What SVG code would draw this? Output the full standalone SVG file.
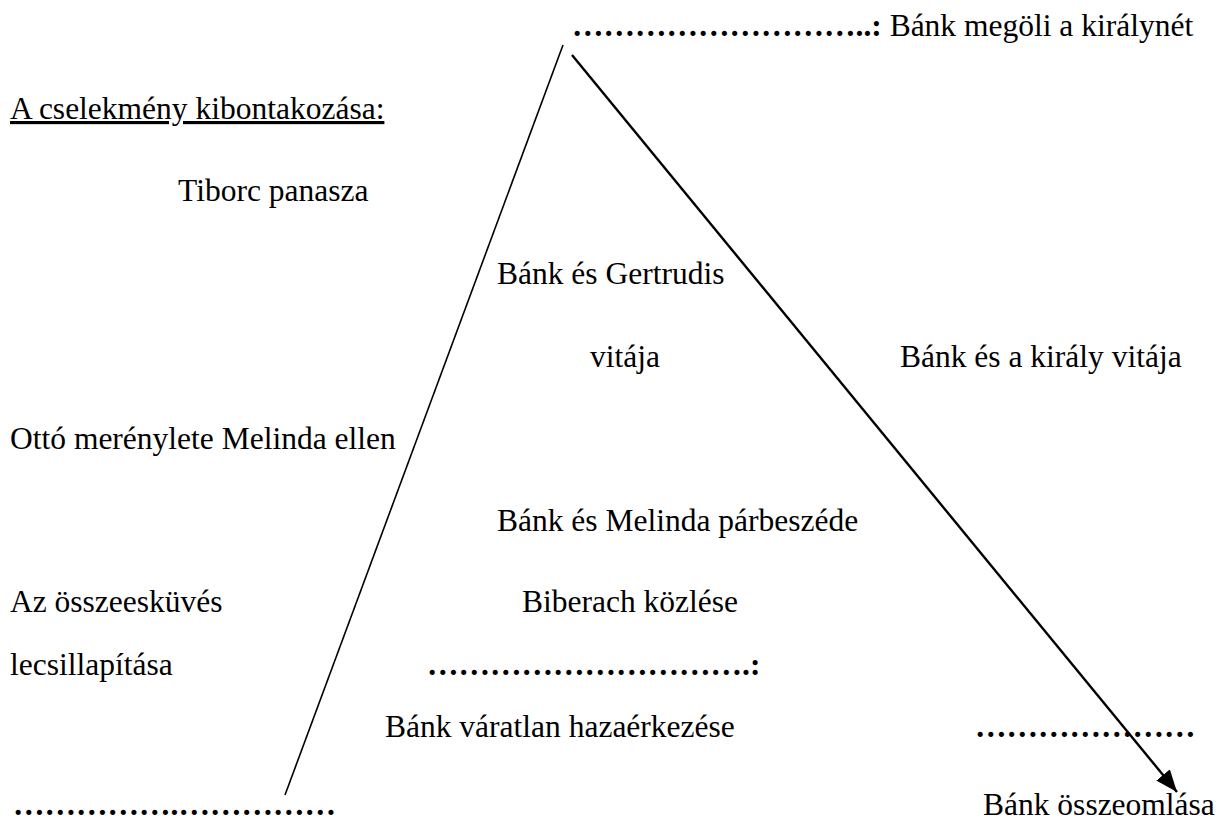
<svg xmlns="http://www.w3.org/2000/svg" width="1223" height="821" viewBox="0 0 1223 821">
<style>
text{font-family:"Liberation Serif","Times New Roman",serif;font-size:31.5px;fill:#000}
.b{font-weight:bold}
.u{text-decoration:underline}
</style>
<defs>
<marker id="ah2" viewBox="0 0 20 16" refX="20" refY="8" markerWidth="22" markerHeight="18" markerUnits="userSpaceOnUse" orient="auto">
<path d="M0,0 L20,8 L0,16 z" fill="#000"/>
</marker>
</defs>
<rect width="1223" height="821" fill="#fff"/>
<g id="connectors">
<line x1="563" y1="45" x2="285" y2="795" stroke="#000" stroke-width="1.6"/>
<line x1="572" y1="55" x2="1177" y2="792" stroke="#000" stroke-width="2.4" marker-end="url(#ah2)"/>
</g>
<g id="climax"><text x="572" y="36"><tspan class="b">………………………..:</tspan> Bánk megöli a királynét</text></g>
<g id="header"><text x="10" y="119" class="u">A cselekmény kibontakozása:</text></g>
<g id="tiborc"><text x="178" y="201">Tiborc panasza</text></g>
<g id="gertrudis"><text x="497" y="284">Bánk és Gertrudis</text><text x="590" y="367">vitája</text></g>
<g id="kiraly"><text x="900" y="367">Bánk és a király vitája</text></g>
<g id="otto"><text x="10" y="449">Ottó merénylete Melinda ellen</text></g>
<g id="melinda"><text x="497" y="531">Bánk és Melinda párbeszéde</text></g>
<g id="osszeeskuves"><text x="10" y="612">Az összeesküvés</text><text x="10" y="675">lecsillapítása</text></g>
<g id="biberach"><text x="522" y="612">Biberach közlése</text></g>
<g id="dots-mid"><text x="427" y="675" class="b">………………………….:</text></g>
<g id="hazaerkezes"><text x="385" y="737">Bánk váratlan hazaérkezése</text></g>
<g id="dots-right"><text x="975" y="737" class="b">…………………</text></g>
<g id="dots-left"><text x="13" y="815" class="b">…………….……………</text></g>
<g id="osszeomlas"><text x="983" y="815">Bánk összeomlása</text></g>
</svg>
